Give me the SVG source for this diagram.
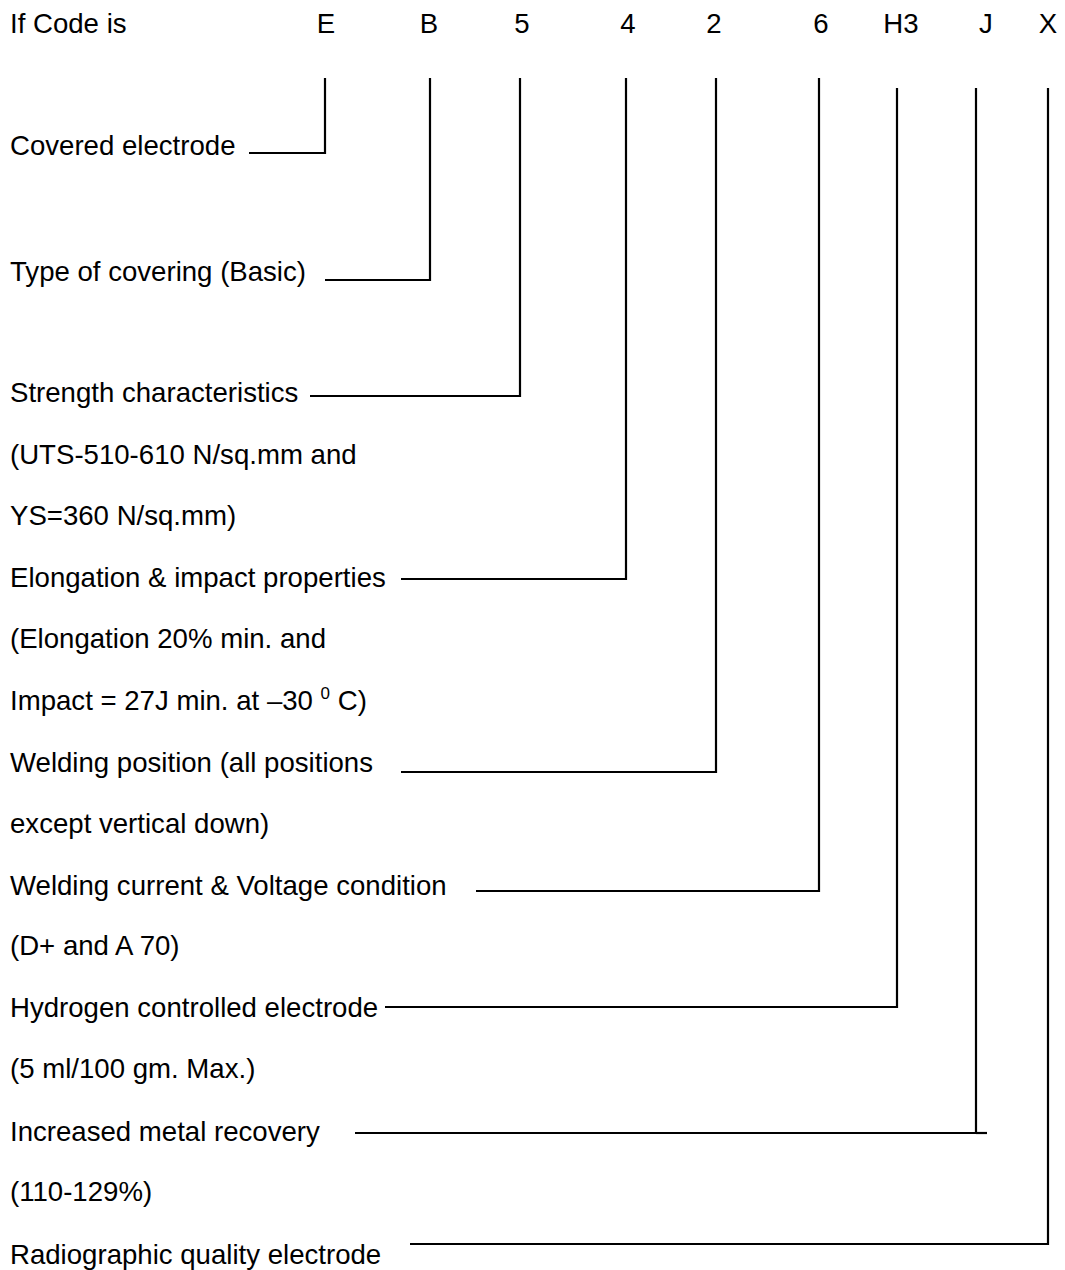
<svg xmlns="http://www.w3.org/2000/svg" width="1065" height="1270" viewBox="0 0 1065 1270">
<style>
text{font-family:"Liberation Sans",Arial,sans-serif;font-size:27.6px;fill:#000}
.c{text-anchor:middle}
.ln{fill:none;stroke:#000;stroke-width:2.2}
</style>
<rect width="1065" height="1270" fill="#fff"/>
<g id="header">
<text x="10" y="33">If Code is</text>
<text class="c" x="326" y="33">E</text>
<text class="c" x="429" y="33">B</text>
<text class="c" x="522" y="33">5</text>
<text class="c" x="628" y="33">4</text>
<text class="c" x="714" y="33">2</text>
<text class="c" x="821" y="33">6</text>
<text class="c" x="901" y="33">H3</text>
<text class="c" x="986" y="33">J</text>
<text class="c" x="1048" y="33">X</text>
</g>
<g id="n-covered"><text x="10" y="155">Covered electrode</text></g>
<g id="n-type"><text x="10" y="281">Type of covering (Basic)</text></g>
<g id="n-strength">
<text x="10" y="402">Strength characteristics</text>
<text x="10" y="464">(UTS-510-610 N/sq.mm and</text>
<text x="10" y="525">YS=360 N/sq.mm)</text>
</g>
<g id="n-elong">
<text x="10" y="587">Elongation &amp; impact properties</text>
<text x="10" y="648">(Elongation 20% min. and</text>
<text x="10" y="710">Impact = 27J min. at –30 <tspan font-size="17" dy="-11">0</tspan><tspan dy="11"> C)</tspan></text>
</g>
<g id="n-position">
<text x="10" y="772">Welding position (all positions</text>
<text x="10" y="833">except vertical down)</text>
</g>
<g id="n-current">
<text x="10" y="895">Welding current &amp; Voltage condition</text>
<text x="10" y="955">(D+ and A 70)</text>
</g>
<g id="n-hydrogen">
<text x="10" y="1017">Hydrogen controlled electrode</text>
<text x="10" y="1078">(5 ml/100 gm. Max.)</text>
</g>
<g id="n-recovery">
<text x="10" y="1141">Increased metal recovery</text>
<text x="10" y="1201">(110-129%)</text>
</g>
<g id="n-radio"><text x="10" y="1264">Radiographic quality electrode</text></g>
<g id="connectors" class="ln">
<polyline class="ln" points="249,153 325,153 325,78"/>
<polyline class="ln" points="325,280 430,280 430,78"/>
<polyline class="ln" points="310,396 520,396 520,78"/>
<polyline class="ln" points="401,579 626,579 626,78"/>
<polyline class="ln" points="401,772 716,772 716,78"/>
<polyline class="ln" points="476,891 819,891 819,78"/>
<polyline class="ln" points="385,1007 897,1007 897,88"/>
<polyline class="ln" points="355,1133 976,1133 976,88"/>
<line class="ln" x1="976" y1="1133" x2="987" y2="1133"/>
<polyline class="ln" points="410,1244 1048,1244 1048,88"/>
</g>
</svg>
